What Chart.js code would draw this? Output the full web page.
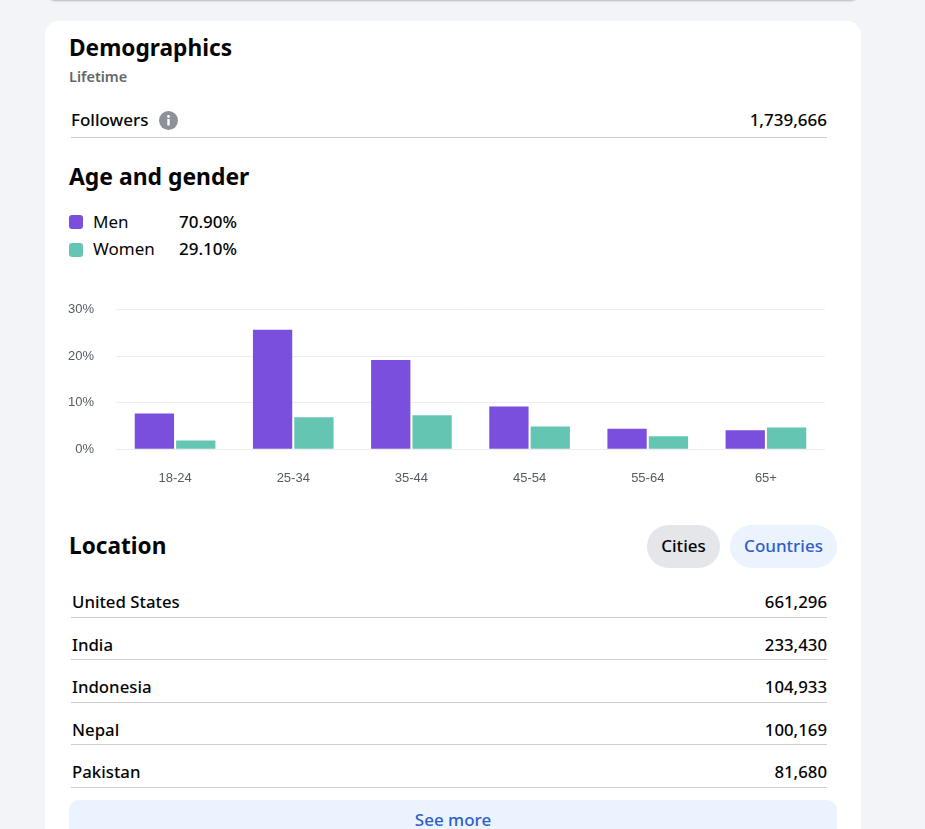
<!DOCTYPE html>
<html><head><meta charset="utf-8">
<script src="https://cdn.jsdelivr.net/npm/chart.js@4"></script>
<style>
html,body{margin:0;padding:0;width:925px;height:829px;overflow:hidden;background:#f2f4f8;font-family:"Noto Sans",sans-serif;color:#050505}
.t{position:absolute;white-space:nowrap;line-height:1;font-weight:500}
.topcard{position:absolute;left:45px;top:-20px;width:816px;height:20px;background:#fff;border-radius:12px;box-shadow:0 1px 2px rgba(0,0,0,.25)}
.card{position:absolute;left:45px;top:21px;width:816px;height:840px;background:#fff;border-radius:14px}
.line{position:absolute;left:71px;width:756px;height:1px;background:#ccced2}
.sw{position:absolute;left:69px;width:14px;height:14px;border-radius:3px}
.pill{position:absolute;top:525px;height:43px;border-radius:22px;text-align:center;line-height:42px;font-size:17px;font-weight:500}
#wrap{position:absolute;left:60px;top:280px;width:775px;height:215px}
.r{text-align:right}
</style></head><body>
<div class="topcard"></div><div class="card"></div>
<div class="t" style="left:69px;top:37px;font-size:22.7px;font-weight:700">Demographics</div>
<div class="t" style="left:69px;top:69px;font-size:14.5px;font-weight:600;color:#65676b">Lifetime</div>
<div class="t" style="left:71px;top:111px;font-size:17px">Followers</div>
<svg style="position:absolute;left:159px;top:111px" width="19" height="19" viewBox="0 0 19 19"><circle cx="9.5" cy="9.5" r="9.5" fill="#8d9199"/><rect x="8.3" y="8" width="2.4" height="6.5" rx=".6" fill="#fff"/><circle cx="9.5" cy="5.5" r="1.4" fill="#fff"/></svg>
<div class="t r" id="followers" style="right:98px;top:111px;font-size:17px"></div>
<div class="line" style="top:137px"></div>
<div class="t" style="left:69px;top:166px;font-size:22.9px;font-weight:700">Age and gender</div>
<div class="sw" style="top:215px;background:#7b4fde"></div>
<div class="t" style="left:93px;top:213px;font-size:17px;font-weight:400">Men</div>
<div class="t r" id="menPct" style="right:688px;top:213px;font-size:17px"></div>
<div class="sw" style="top:243px;background:#64c5b2"></div>
<div class="t" style="left:93px;top:240px;font-size:17px;font-weight:400">Women</div>
<div class="t r" id="womenPct" style="right:688px;top:240px;font-size:17px"></div>
<div id="wrap"><canvas id="c" width="775" height="215"></canvas></div>
<div class="t" style="left:69px;top:535px;font-size:22.6px;font-weight:700">Location</div>
<div class="pill" style="left:647px;width:73px;background:#e4e6ea">Cities</div>
<div class="pill" style="left:730px;width:107px;background:#ebf3fe;color:#2f5fc9">Countries</div>
<div id="rows"></div>
<div style="position:absolute;left:69px;top:800px;width:768px;height:40px;border-radius:10px;background:#ebf3fe;color:#2f5fc9;text-align:center;font-size:17px;font-weight:500;line-height:40px">See more</div>
<script>
const followers = "1,739,666";
const menShare = "70.90%";
const womenShare = "29.10%";
const ageGroups = ["18-24","25-34","35-44","45-54","55-64","65+"];
const menValues = [7.7,25.7,19.2,9.2,4.4,4.1];
const womenValues = [1.9,6.9,7.3,4.9,2.8,4.7];
const countries = ["United States","India","Indonesia","Nepal","Pakistan"];
const countryValues = ["661,296","233,430","104,933","100,169","81,680"];

document.getElementById('followers').textContent = followers;
document.getElementById('menPct').textContent = menShare;
document.getElementById('womenPct').textContent = womenShare;
const rowTops = [594,637,679,722,764], lineTops = [617,659,702,744,787];
document.getElementById('rows').innerHTML = countries.map((n,i)=>
 `<div class="t" style="left:72px;top:${rowTops[i]}px;font-size:16.8px">${n}</div>`+
 `<div class="t r" style="right:98px;top:${rowTops[i]}px;font-size:16.8px">${countryValues[i]}</div>`+
 `<div class="line" style="top:${lineTops[i]}px"></div>`).join('');

new Chart(document.getElementById('c'),{
 type:'bar',
 data:{labels:ageGroups,datasets:[
  {label:'Men',data:menValues,backgroundColor:'#7b4fde',barPercentage:.95,categoryPercentage:.7},
  {label:'Women',data:womenValues,backgroundColor:'#64c5b2',barPercentage:.95,categoryPercentage:.7}
 ]},
 options:{responsive:false,animation:false,devicePixelRatio:1,
  layout:{padding:{top:12.7,right:10,left:0,bottom:0}},
  plugins:{legend:{display:false},tooltip:{enabled:false}},
  scales:{
   x:{grid:{display:false},border:{display:false},
      ticks:{color:'#555a64',font:{family:'"Liberation Sans"',size:13},padding:13,maxRotation:0},
      afterFit(s){s.height=45.7}},
   y:{min:0,max:30,grid:{color:'#ededf0',drawTicks:false},border:{display:false},
      ticks:{stepSize:10,color:'#555a64',font:{family:'"Liberation Sans"',size:13},padding:22,callback:v=>v+'%'},
      afterFit(s){s.width=56}}
  }}
});
</script>
</body></html>
